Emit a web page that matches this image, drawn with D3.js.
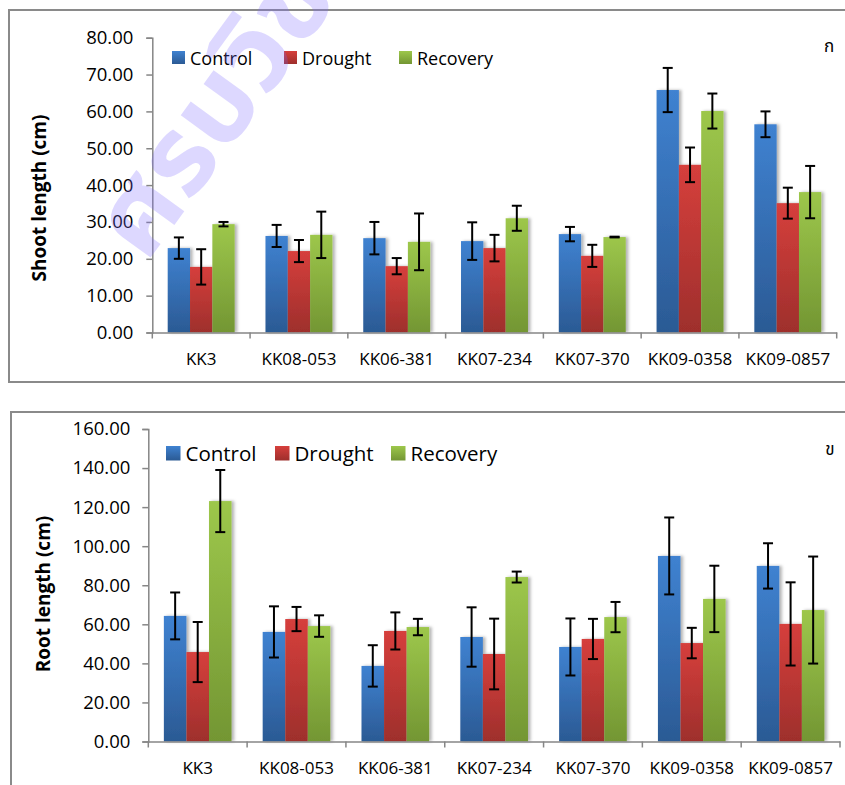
<!DOCTYPE html>
<html><head><meta charset="utf-8">
<script src="https://cdn.jsdelivr.net/npm/d3@7"></script>
<style>
html,body{margin:0;padding:0;background:#fff;}
svg{display:block;}
text{font-family:"Open Sans","Noto Sans",sans-serif;fill:#000;}
.thai{font-family:"Noto Sans Thai","Loma","Garuda","Norasi","Waree","Tlwg Typist",sans-serif;}
</style></head><body>
<script>
const categories = ["KK3","KK08-053","KK06-381","KK07-234","KK07-370","KK09-0358","KK09-0857"];
const seriesNames = ["Control","Drought","Recovery"];
const seriesColors = [["#3f82d1","#2b5a94"],["#d63f3c","#9e2f2c"],["#9dc74b","#739633"]];

// Shoot length (cm)
const shootControl  = [22.9, 26.2, 25.6, 24.8, 26.7, 65.8, 56.5];
const shootDrought  = [17.8, 22.1, 18.0, 22.9, 20.8, 45.5, 35.1];
const shootRecovery = [29.4, 26.5, 24.6, 31.0, 25.9, 60.1, 38.1];
const shootControlErr  = [2.9, 3.0, 4.4, 5.1, 1.95, 6.0, 3.5];
const shootDroughtErr  = [4.8, 3.0, 2.2, 3.6, 3.0, 4.7, 4.2];
const shootRecoveryErr = [0.6, 6.3, 7.7, 3.4, 0.1, 4.75, 7.1];
const shootTicks = [0,10,20,30,40,50,60,70,80];

// Root length (cm)
const rootControl  = [64.3, 56.1, 38.7, 53.5, 48.4, 95.0, 89.9];
const rootDrought  = [45.8, 62.7, 56.6, 44.8, 52.5, 50.4, 60.2];
const rootRecovery = [123.1, 59.1, 58.6, 84.2, 63.7, 73.0, 67.3];
const rootControlErr  = [12.0, 13.1, 10.6, 15.2, 14.6, 19.7, 11.6];
const rootDroughtErr  = [15.4, 6.2, 9.5, 18.1, 10.3, 7.8, 21.3];
const rootRecoveryErr = [15.9, 5.5, 4.2, 2.8, 7.75, 17.0, 27.4];
const rootTicks = [0,20,40,60,80,100,120,140,160];

const W = 845, H = 785;
const svg = d3.select("body").append("svg").attr("width", W).attr("height", H);
const defs = svg.append("defs");
seriesColors.forEach((c, i) => {
  const g = defs.append("linearGradient").attr("id", "grad" + i)
    .attr("x1", 0).attr("y1", 0).attr("x2", 0).attr("y2", 1);
  g.append("stop").attr("offset", "0%").attr("stop-color", c[0]);
  g.append("stop").attr("offset", "100%").attr("stop-color", c[1]);
});
const f = defs.append("filter").attr("id", "shadow").attr("x", "-20%").attr("y", "-5%").attr("width", "160%").attr("height", "110%");
f.append("feDropShadow").attr("dx", 2.5).attr("dy", 0).attr("stdDeviation", 1.6)
  .attr("flood-color", "#000").attr("flood-opacity", 0.3);

function panel(o) {
  const g = svg.append("g");
  g.append("rect").attr("x", o.box[0]).attr("y", o.box[1]).attr("width", o.box[2]).attr("height", o.box[3])
    .attr("fill", "#fff").attr("stroke", "#8a8a8a").attr("stroke-width", 2);

  const y = d3.scaleLinear().domain([0, o.ymax]).range([o.y0, o.y1]);
  const x = d3.scaleBand().domain(categories).range([o.x0, o.x1]).padding(0);
  const xs = d3.scaleBand().domain(seriesNames).range([0, x.bandwidth()]).paddingInner(0).paddingOuter(0.69);

  const vals = [o.c, o.d, o.r], errs = [o.ce, o.de, o.re];
  seriesNames.forEach((s, si) => {
    g.append("g").attr("filter", "url(#shadow)").selectAll("rect").data(categories).join("rect")
      .attr("x", (c) => x(c) + xs(s))
      .attr("width", xs.bandwidth())
      .attr("y", (c, i) => y(vals[si][i]))
      .attr("height", (c, i) => y(0) - y(vals[si][i]))
      .attr("fill", "url(#grad" + si + ")");
  });
  seriesNames.forEach((s, si) => {
    const eg = g.append("g").attr("stroke", "#000").attr("stroke-width", 2);
    categories.forEach((c, i) => {
      const cx = x(c) + xs(s) + xs.bandwidth() / 2;
      const hi = y(vals[si][i] + errs[si][i]), lo = y(vals[si][i] - errs[si][i]);
      eg.append("line").attr("x1", cx).attr("x2", cx).attr("y1", hi).attr("y2", lo);
      eg.append("line").attr("x1", cx - 5).attr("x2", cx + 5).attr("y1", hi).attr("y2", hi);
      eg.append("line").attr("x1", cx - 5).attr("x2", cx + 5).attr("y1", lo).attr("y2", lo);
    });
  });

  const ya = g.append("g").attr("transform", `translate(${o.x0},0)`)
    .call(d3.axisLeft(y).tickValues(o.ticks).tickFormat(d3.format(".2f")).tickSizeOuter(0).tickSize(6).tickPadding(o.ytp));
  ya.select(".domain").attr("stroke", "#868686").attr("stroke-width", 1.5);
  ya.selectAll(".tick line").attr("stroke", "#868686").attr("stroke-width", 1.5);
  ya.selectAll(".tick text").attr("font-size", o.yfs).attr("font-family", "Open Sans").attr("fill", "#000");

  const xa = g.append("g").attr("transform", `translate(0,${o.y0})`)
    .call(d3.axisBottom(x).tickSize(0).tickPadding(o.xtp));
  xa.select(".domain").attr("stroke", "#868686").attr("stroke-width", 1.5);
  xa.selectAll(".tick text").attr("font-size", o.xfs).attr("font-family", "Open Sans").attr("fill", "#000");
  const bounds = categories.map(c => x(c)).concat([x(categories[categories.length - 1]) + x.bandwidth()]);
  xa.selectAll(".bt").data(bounds).join("line").attr("class", "bt")
    .attr("x1", d => d).attr("x2", d => d).attr("y1", 0).attr("y2", 6)
    .attr("stroke", "#868686").attr("stroke-width", 1.5);

  g.append("text").attr("transform", `translate(${o.tx},${o.ty}) rotate(-90)`)
    .attr("text-anchor", "middle").attr("dominant-baseline", "central")
    .attr("font-weight", "bold").attr("font-size", o.tfs).text(o.title);

  seriesNames.forEach((s, si) => {
    g.append("rect").attr("x", o.leg[si]).attr("y", o.legY).attr("width", o.legS).attr("height", o.legS)
      .attr("fill", "url(#grad" + si + ")");
    g.append("text").attr("x", o.leg[si] + o.legS + 5).attr("y", o.legY + o.legS / 2)
      .attr("dominant-baseline", "central").attr("font-size", o.lfs).text(s);
  });

  g.append("text").attr("class", "thai").attr("x", o.corner[0]).attr("y", o.corner[1])
    .attr("text-anchor", "middle").attr("dominant-baseline", "central").attr("font-size", 17).text(o.cornerText);
}

panel({
  box: [9, 10, 850, 372], ymax: 80, y0: 332.5, y1: 37.7, x0: 152.3, x1: 836.7,
  c: shootControl, d: shootDrought, r: shootRecovery,
  ce: shootControlErr, de: shootDroughtErr, re: shootRecoveryErr,
  ticks: shootTicks, ytp: 13, yfs: 18.5, xtp: 20, xfs: 17,
  title: "Shoot length (cm)", tx: 39, ty: 198, tfs: 19,
  leg: [172, 284, 399], legY: 51, legS: 13, lfs: 18,
  corner: [829, 47], cornerText: "ก"
});
panel({
  box: [11, 412, 850, 400], ymax: 160, y0: 741.5, y1: 429, x0: 148.3, x1: 840,
  c: rootControl, d: rootDrought, r: rootRecovery,
  ce: rootControlErr, de: rootDroughtErr, re: rootRecoveryErr,
  ticks: rootTicks, ytp: 12, yfs: 18.5, xtp: 20, xfs: 17,
  title: "Root length (cm)", tx: 43, ty: 594, tfs: 19,
  leg: [166, 275, 391], legY: 446, legS: 14.5, lfs: 20.5,
  corner: [830, 450], cornerText: "ข"
});

// watermark
svg.append("text").attr("class", "thai")
  .attr("transform", "translate(146,264) rotate(-54)")
  .attr("font-size", 108).attr("font-weight", "bold")
  .attr("textLength", 330).attr("lengthAdjust", "spacingAndGlyphs")
  .style("fill", "rgba(125,105,255,0.26)")
  .text("ศรบวิช");
</script>
</body></html>
